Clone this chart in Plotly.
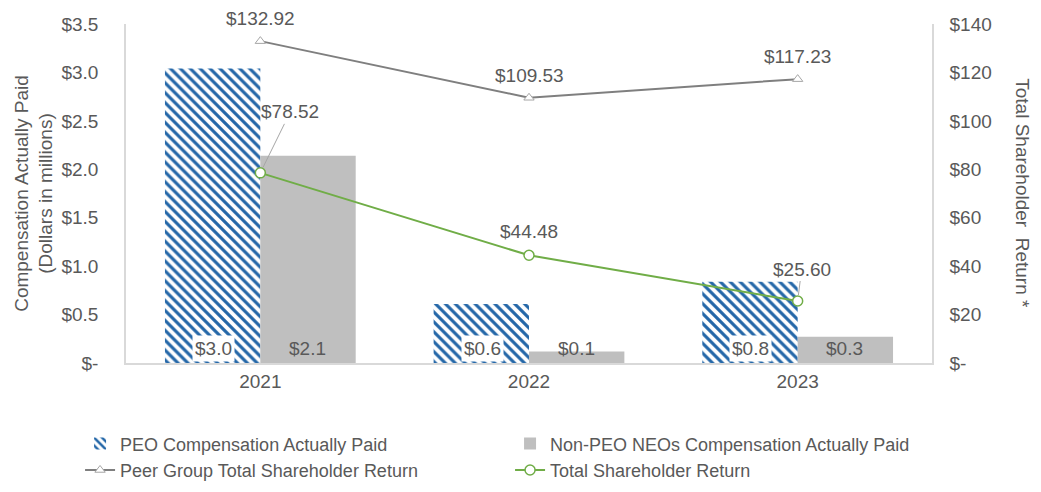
import plotly.graph_objects as go

years = ["2021", "2022", "2023"]
peo_cap = [3.04, 0.61, 0.84]
neo_cap = [2.14, 0.12, 0.27]
peer_tsr = [132.92, 109.53, 117.23]
tsr = [78.52, 44.48, 25.60]

left_ticks = [0, 0.5, 1.0, 1.5, 2.0, 2.5, 3.0, 3.5]
right_ticks = [0, 20, 40, 60, 80, 100, 120, 140]

grey_txt = "#595959"
font = "Liberation Sans, Arial, sans-serif"
fs = 19

fig = go.Figure()

fig.add_trace(go.Bar(
    x=years, y=peo_cap, name="PEO Compensation Actually Paid",
    marker=dict(color="white", line=dict(width=0),
                pattern=dict(shape="\\", fgcolor="#2467A8", bgcolor="white",
                             fgopacity=1, size=7, solidity=0.45)),
))
fig.add_trace(go.Bar(
    x=years, y=neo_cap, name="Non-PEO NEOs Compensation Actually Paid",
    marker=dict(color="#BFBFBF", line=dict(width=0)),
))
fig.add_trace(go.Scatter(
    x=years, y=peer_tsr, name="Peer Group Total Shareholder Return", yaxis="y2",
    mode="lines+markers", line=dict(color="#7F7F7F", width=2),
    marker=dict(symbol="triangle-up", size=9, color="white",
                line=dict(color="#A6A6A6", width=1)),
))
fig.add_trace(go.Scatter(
    x=years, y=tsr, name="Total Shareholder Return", yaxis="y2",
    mode="lines+markers", line=dict(color="#70AD47", width=2),
    marker=dict(symbol="circle", size=10, color="white",
                line=dict(color="#70AD47", width=1.5)),
))

# bar value labels at the bottom of each bar (category index as x)
for i, v in enumerate(peo_cap):
    fig.add_annotation(x=i, y=0, text="$%.1f" % v, showarrow=False,
                       xshift=-47, yshift=15, bgcolor="white", borderpad=2,
                       font=dict(size=fs, color=grey_txt, family=font))
for i, v in enumerate(neo_cap):
    fig.add_annotation(x=i, y=0, text="$%.1f" % v, showarrow=False,
                       xshift=47, yshift=15,
                       font=dict(size=fs, color=grey_txt, family=font))

# line value labels
for i, v in enumerate(peer_tsr):
    fig.add_annotation(x=i, y=v, yref="y2", text="$%.2f" % v, showarrow=False,
                       yanchor="bottom", yshift=10,
                       font=dict(size=fs, color=grey_txt, family=font))
tsr_offsets = [(30, -61, True), (0, -24, False), (4, -32, True)]
for i, (v, (ax, ay, lead)) in enumerate(zip(tsr, tsr_offsets)):
    fig.add_annotation(x=i, y=v, yref="y2", text="$%.2f" % v,
                       showarrow=True, ax=ax, ay=ay, arrowhead=0,
                       arrowwidth=1, standoff=6,
                       arrowcolor="#A6A6A6" if lead else "rgba(0,0,0,0)",
                       font=dict(size=fs, color=grey_txt, family=font))

# axis titles
fig.add_annotation(xref="paper", yref="paper", x=-0.115, y=0.5,
                   xanchor="center", yanchor="middle",
                   text="Compensation Actually Paid<br>(Dollars in millions)",
                   textangle=-90, showarrow=False,
                   font=dict(size=fs, color=grey_txt, family=font))
fig.add_annotation(xref="paper", yref="paper", x=1.112, y=0.5,
                   xanchor="center", yanchor="middle",
                   text="Total Shareholder  Return *",
                   textangle=90, showarrow=False,
                   font=dict(size=fs, color=grey_txt, family=font))

fig.update_layout(
    width=1041, height=492,
    margin=dict(l=118, r=117, t=16, b=133),
    paper_bgcolor="white", plot_bgcolor="white",
    barmode="group", bargap=0.29, bargroupgap=0,
    font=dict(family=font, size=fs, color=grey_txt),
    showlegend=True,
    legend=dict(orientation="h", x=-0.057, xanchor="left", y=-0.184, yanchor="top",
                entrywidth=385, entrywidthmode="pixels",
                font=dict(size=18, color=grey_txt, family=font),
                tracegroupgap=0),
    xaxis=dict(type="category", range=[-0.5, 2.5], showline=True,
               linecolor="#D9D9D9", linewidth=1.5, automargin=False,
               ticks="", showgrid=False, tickfont=dict(size=fs)),
    yaxis=dict(range=[0, 3.5], tickvals=left_ticks,
               ticktext=["$-" if t == 0 else "$%.1f" % t for t in left_ticks],
               showgrid=False, zeroline=False, showline=True,
               linecolor="#D9D9D9", linewidth=1.5, ticks="",
               automargin=False, ticklabelstandoff=22,
               tickfont=dict(size=fs)),
    yaxis2=dict(range=[0, 140], overlaying="y", side="right",
                tickvals=right_ticks,
                ticktext=["$-" if t == 0 else "$%d" % t for t in right_ticks],
                showgrid=False, zeroline=False, showline=True,
                linecolor="#D9D9D9", linewidth=1.5, ticks="",
                automargin=False, ticklabelstandoff=12,
                tickfont=dict(size=fs)),
)

fig.write_html("out.html")
